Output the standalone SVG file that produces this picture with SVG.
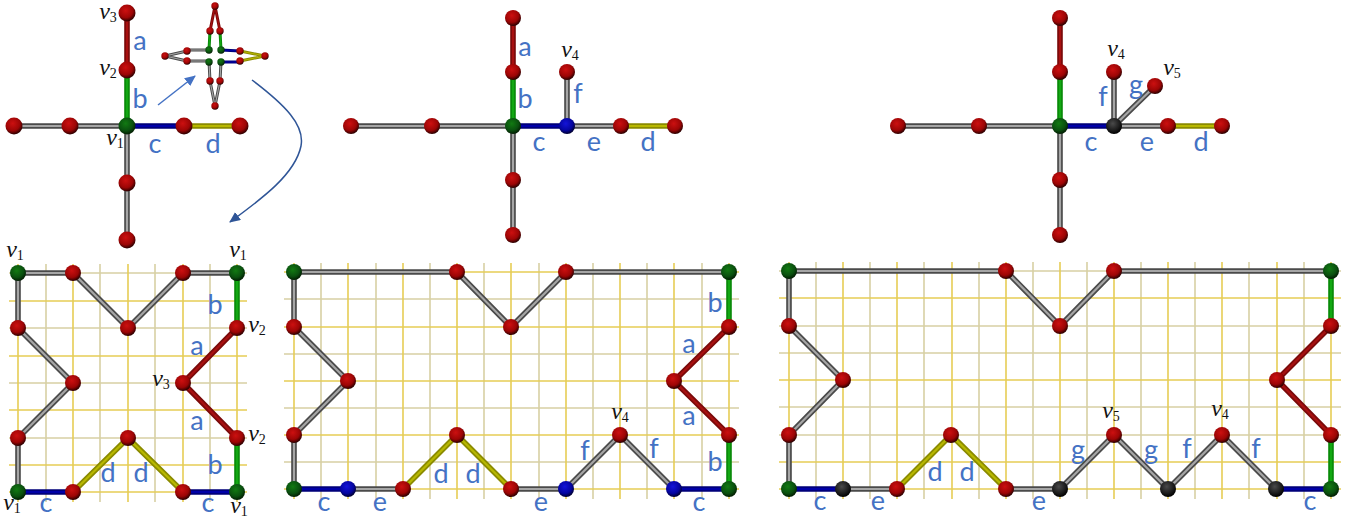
<svg xmlns="http://www.w3.org/2000/svg" width="1358" height="521" viewBox="0 0 1358 521">
<style>
.gy{fill:none;stroke:#e6cd55;stroke-width:1.6}
.gg{fill:none;stroke:#d8d0a4;stroke-width:1.6}
.o{fill:none;stroke-linecap:round;stroke-linejoin:round;stroke-width:5.6}
.i{fill:none;stroke-linecap:round;stroke-linejoin:round;stroke-width:2.2}
.n-o{stroke:#4a4a4a}.n-i{stroke:#a6a6a6}
.r-o{stroke:#7a0a0a}.r-i{stroke:#a81010}
.e-o{stroke:#0a8a0a}.e-i{stroke:#12a812}
.b-o{stroke:#00007a}.b-i{stroke:#0000a8}
.y-o{stroke:#8a8a00}.y-i{stroke:#b8b800}
.s .o{stroke-width:3}.s .i{stroke-width:1.1}
.R{fill:url(#gr)}.G{fill:url(#gg)}.B{fill:url(#gb)}.K{fill:url(#gk)}
.l{font-family:Lato,"Open Sans",sans-serif;font-size:27px;fill:#4472c4;text-anchor:middle}
.m{font-family:"Liberation Serif",serif;font-style:italic;font-size:24px;fill:#111;text-anchor:middle}
.m tspan{font-size:14px;font-style:normal}
.ar{fill:none;stroke:#4472c4;stroke-width:1.5}
.ar2{fill:none;stroke:#2f5597;stroke-width:1.5}
</style>
<defs>
<radialGradient id="gr" cx=".42" cy=".35" r=".65"><stop offset="0" stop-color="#cc1010"/><stop offset=".65" stop-color="#9c0505"/><stop offset="1" stop-color="#2a0000"/></radialGradient>
<radialGradient id="gg" cx=".42" cy=".35" r=".65"><stop offset="0" stop-color="#127a12"/><stop offset=".65" stop-color="#0a500f"/><stop offset="1" stop-color="#021d02"/></radialGradient>
<radialGradient id="gb" cx=".42" cy=".35" r=".65"><stop offset="0" stop-color="#1414d8"/><stop offset=".65" stop-color="#0505a0"/><stop offset="1" stop-color="#000030"/></radialGradient>
<radialGradient id="gk" cx=".42" cy=".35" r=".65"><stop offset="0" stop-color="#4a4a4a"/><stop offset=".65" stop-color="#1c1c1c"/><stop offset="1" stop-color="#000"/></radialGradient>
<marker id="a1" markerUnits="userSpaceOnUse" markerWidth="12" markerHeight="12" refX="10" refY="5" orient="auto"><path d="M0 0L11 5L0 10z" fill="#4472c4"/></marker>
<marker id="a2" markerUnits="userSpaceOnUse" markerWidth="12" markerHeight="12" refX="10" refY="5" orient="auto"><path d="M0 0L11 5L0 10z" fill="#2f5597"/></marker>
</defs>
<g id="grid">
<path class="gg" d="M46 264V502M100 264V502M155 264V502M210 264V502M9 328H247M9 383H247M9 438H247M9 273H247"/>
<path class="gy" d="M18 264V502M73 264V502M128 264V502M183 264V502M237 264V502M9 301H247M9 356H247M9 410H247M9 465H247M9 492H247"/>
<path class="gg" d="M321 263V499M376 263V499M430 263V499M484 263V499M539 263V499M593 263V499M647 263V499M702 263V499M284 299H739M284 354H739M284 408H739M284 462H739"/>
<path class="gy" d="M294 263V499M348 263V499M403 263V499M457 263V499M511 263V499M566 263V499M620 263V499M674 263V499M729 263V499M284 272H739M284 327H739M284 381H739M284 435H739M284 489H739"/>
<path class="gg" d="M816 262V499M870 262V499M924 262V499M979 262V499M1033 262V499M1087 262V499M1141 262V499M1195 262V499M1249 262V499M1304 262V499M779 326H1341M779 407H1341M779 271H1341M779 435H1341M779 353H1341"/>
<path class="gy" d="M789 262V499M843 262V499M897 262V499M952 262V499M1006 262V499M1060 262V499M1114 262V499M1168 262V499M1222 262V499M1277 262V499M1331 262V499M779 298H1341M779 380H1341M779 462H1341M779 489H1341"/>
</g>
<g id="connectors">
<path class="o n-o" d="M14 126H127V240"/><path class="i n-i" d="M14 126H127V240"/>
<path class="o r-o" d="M127 13V70"/><path class="i r-i" d="M127 13V70"/>
<path class="o e-o" d="M127 70V126"/><path class="i e-i" d="M127 70V126"/>
<path class="o b-o" d="M127 126H184"/><path class="i b-i" d="M127 126H184"/>
<path class="o y-o" d="M184 126H240"/><path class="i y-i" d="M184 126H240"/>
<g class="s">
<path class="o n-o" d="M187 51L165 56L187 61H209L210 81L215 106L220 81L221 62M209 50H187"/><path class="i n-i" d="M187 51L165 56L187 61H209L210 81L215 106L220 81L221 62M209 50H187"/>
<path class="o r-o" d="M210 31L215 6L220 31"/><path class="i r-i" d="M210 31L215 6L220 31"/>
<path class="o e-o" d="M210 31L209 50M220 31L221 50"/><path class="i e-i" d="M210 31L209 50M220 31L221 50"/>
<path class="o b-o" d="M221 50L240 51M221 62H240"/><path class="i b-i" d="M221 50L240 51M221 62H240"/>
<path class="o y-o" d="M240 51L265 56L240 61"/><path class="i y-i" d="M240 51L265 56L240 61"/>
</g>
<path class="o n-o" d="M351 126H513V235M567 126H621M567 126V72"/><path class="i n-i" d="M351 126H513V235M567 126H621M567 126V72"/>
<path class="o r-o" d="M513 18V72"/><path class="i r-i" d="M513 18V72"/>
<path class="o e-o" d="M513 72V126"/><path class="i e-i" d="M513 72V126"/>
<path class="o b-o" d="M513 126H567"/><path class="i b-i" d="M513 126H567"/>
<path class="o y-o" d="M621 126H675"/><path class="i y-i" d="M621 126H675"/>
<path class="o n-o" d="M898 126H1060V235M1114 126H1168M1114 126V72M1114 126L1155 86"/><path class="i n-i" d="M898 126H1060V235M1114 126H1168M1114 126V72M1114 126L1155 86"/>
<path class="o r-o" d="M1060 18V72"/><path class="i r-i" d="M1060 18V72"/>
<path class="o e-o" d="M1060 72V126"/><path class="i e-i" d="M1060 72V126"/>
<path class="o b-o" d="M1060 126H1114"/><path class="i b-i" d="M1060 126H1114"/>
<path class="o y-o" d="M1168 126H1222"/><path class="i y-i" d="M1168 126H1222"/>
<path class="o n-o" d="M18 492V438L73 383L18 328V273H73L128 328L183 273H237"/><path class="i n-i" d="M18 492V438L73 383L18 328V273H73L128 328L183 273H237"/>
<path class="o r-o" d="M237 328L183 383L237 438"/><path class="i r-i" d="M237 328L183 383L237 438"/>
<path class="o e-o" d="M237 273V328M237 438V492"/><path class="i e-i" d="M237 273V328M237 438V492"/>
<path class="o b-o" d="M18 492H73M183 492H237"/><path class="i b-i" d="M18 492H73M183 492H237"/>
<path class="o y-o" d="M73 492L128 438L183 492"/><path class="i y-i" d="M73 492L128 438L183 492"/>
<path class="o n-o" d="M294 489V435L348 381L294 327V272H457L511 327L566 272H729M348 489H403M511 489H566L620 435L674 489"/><path class="i n-i" d="M294 489V435L348 381L294 327V272H457L511 327L566 272H729M348 489H403M511 489H566L620 435L674 489"/>
<path class="o r-o" d="M729 327L674 381L729 435"/><path class="i r-i" d="M729 327L674 381L729 435"/>
<path class="o e-o" d="M729 272V327M729 435V489"/><path class="i e-i" d="M729 272V327M729 435V489"/>
<path class="o b-o" d="M294 489H348M674 489H729"/><path class="i b-i" d="M294 489H348M674 489H729"/>
<path class="o y-o" d="M403 489L457 435L511 489"/><path class="i y-i" d="M403 489L457 435L511 489"/>
<path class="o n-o" d="M789 489V435L843 380L789 326V271H1006L1060 326L1114 271H1331M843 489H897M1006 489H1060L1114 435L1168 489L1222 435L1276 489"/><path class="i n-i" d="M789 489V435L843 380L789 326V271H1006L1060 326L1114 271H1331M843 489H897M1006 489H1060L1114 435L1168 489L1222 435L1276 489"/>
<path class="o r-o" d="M1331 326L1277 380L1331 435"/><path class="i r-i" d="M1331 326L1277 380L1331 435"/>
<path class="o e-o" d="M1331 271V326M1331 435V489"/><path class="i e-i" d="M1331 271V326M1331 435V489"/>
<path class="o b-o" d="M789 489H843M1276 489H1331"/><path class="i b-i" d="M789 489H843M1276 489H1331"/>
<path class="o y-o" d="M897 489L951 435L1006 489"/><path class="i y-i" d="M897 489L951 435L1006 489"/>
<path class="ar" d="M158 105L195 76" marker-end="url(#a1)"/>
<path class="ar2" d="M252 80C285 105 305 125 301 146C295 175 260 200 230 222" marker-end="url(#a2)"/>
</g>
<g id="nodes-top-1">
<circle class="R" cx="127" cy="13" r="8.5"/><circle class="R" cx="127" cy="70" r="8.5"/><circle class="R" cx="14" cy="126" r="8.5"/><circle class="R" cx="70" cy="126" r="8.5"/><circle class="G" cx="127" cy="126" r="8.5"/><circle class="R" cx="184" cy="126" r="8.5"/><circle class="R" cx="240" cy="126" r="8.5"/><circle class="R" cx="127" cy="183" r="8.5"/><circle class="R" cx="127" cy="240" r="8.5"/>
</g>
<g id="nodes-inset">
<circle class="R" cx="215" cy="6" r="3.7"/><circle class="R" cx="210" cy="31" r="3.7"/><circle class="R" cx="220" cy="31" r="3.7"/><circle class="R" cx="165" cy="56" r="3.7"/><circle class="R" cx="187" cy="51" r="3.7"/><circle class="R" cx="187" cy="61" r="3.7"/><circle class="G" cx="209" cy="50" r="3.7"/><circle class="G" cx="221" cy="50" r="3.7"/><circle class="G" cx="209" cy="62" r="3.7"/><circle class="G" cx="221" cy="62" r="3.7"/><circle class="R" cx="240" cy="51" r="3.7"/><circle class="R" cx="240" cy="61" r="3.7"/><circle class="R" cx="265" cy="56" r="3.7"/><circle class="R" cx="210" cy="81" r="3.7"/><circle class="R" cx="220" cy="81" r="3.7"/><circle class="R" cx="215" cy="106" r="3.7"/>
</g>
<g id="nodes-top-2">
<circle class="R" cx="513" cy="18" r="8"/><circle class="R" cx="513" cy="72" r="8"/><circle class="R" cx="351" cy="126" r="8"/><circle class="R" cx="432" cy="126" r="8"/><circle class="G" cx="513" cy="126" r="8"/><circle class="B" cx="567" cy="126" r="8"/><circle class="R" cx="621" cy="126" r="8"/><circle class="R" cx="675" cy="126" r="8"/><circle class="R" cx="513" cy="180" r="8"/><circle class="R" cx="513" cy="235" r="8"/><circle class="R" cx="567" cy="72" r="8"/>
</g>
<g id="nodes-top-3">
<circle class="R" cx="1060" cy="18" r="8"/><circle class="R" cx="1060" cy="72" r="8"/><circle class="R" cx="898" cy="126" r="8"/><circle class="R" cx="979" cy="126" r="8"/><circle class="G" cx="1060" cy="126" r="8"/><circle class="K" cx="1114" cy="126" r="8"/><circle class="R" cx="1168" cy="126" r="8"/><circle class="R" cx="1222" cy="126" r="8"/><circle class="R" cx="1060" cy="180" r="8"/><circle class="R" cx="1060" cy="235" r="8"/><circle class="R" cx="1114" cy="72" r="8"/><circle class="R" cx="1155" cy="86" r="8"/>
</g>
<g id="nodes-bottom-1">
<circle class="G" cx="18" cy="273" r="8"/><circle class="R" cx="73" cy="273" r="8"/><circle class="R" cx="183" cy="273" r="8"/><circle class="G" cx="237" cy="273" r="8"/><circle class="R" cx="18" cy="328" r="8"/><circle class="R" cx="128" cy="328" r="8"/><circle class="R" cx="237" cy="328" r="8"/><circle class="R" cx="73" cy="383" r="8"/><circle class="R" cx="183" cy="383" r="8"/><circle class="R" cx="18" cy="438" r="8"/><circle class="R" cx="128" cy="438" r="8"/><circle class="R" cx="237" cy="438" r="8"/><circle class="G" cx="18" cy="492" r="8"/><circle class="R" cx="73" cy="492" r="8"/><circle class="R" cx="183" cy="492" r="8"/><circle class="G" cx="237" cy="492" r="8"/>
</g>
<g id="nodes-bottom-2">
<circle class="G" cx="294" cy="272" r="8"/><circle class="R" cx="457" cy="272" r="8"/><circle class="R" cx="566" cy="272" r="8"/><circle class="G" cx="729" cy="272" r="8"/><circle class="R" cx="294" cy="327" r="8"/><circle class="R" cx="511" cy="327" r="8"/><circle class="R" cx="729" cy="327" r="8"/><circle class="R" cx="348" cy="381" r="8"/><circle class="R" cx="674" cy="381" r="8"/><circle class="R" cx="294" cy="435" r="8"/><circle class="R" cx="457" cy="435" r="8"/><circle class="R" cx="620" cy="435" r="8"/><circle class="R" cx="729" cy="435" r="8"/><circle class="G" cx="294" cy="489" r="8"/><circle class="B" cx="348" cy="489" r="8"/><circle class="R" cx="403" cy="489" r="8"/><circle class="R" cx="511" cy="489" r="8"/><circle class="B" cx="566" cy="489" r="8"/><circle class="B" cx="674" cy="489" r="8"/><circle class="G" cx="729" cy="489" r="8"/>
</g>
<g id="nodes-bottom-3">
<circle class="G" cx="789" cy="271" r="8"/><circle class="R" cx="1006" cy="271" r="8"/><circle class="R" cx="1114" cy="271" r="8"/><circle class="G" cx="1331" cy="271" r="8"/><circle class="R" cx="789" cy="326" r="8"/><circle class="R" cx="1060" cy="326" r="8"/><circle class="R" cx="1331" cy="326" r="8"/><circle class="R" cx="843" cy="380" r="8"/><circle class="R" cx="1277" cy="380" r="8"/><circle class="R" cx="789" cy="435" r="8"/><circle class="R" cx="951" cy="435" r="8"/><circle class="R" cx="1114" cy="435" r="8"/><circle class="R" cx="1222" cy="435" r="8"/><circle class="R" cx="1331" cy="435" r="8"/><circle class="G" cx="789" cy="489" r="8"/><circle class="K" cx="843" cy="489" r="8"/><circle class="R" cx="897" cy="489" r="8"/><circle class="R" cx="1006" cy="489" r="8"/><circle class="K" cx="1060" cy="489" r="8"/><circle class="K" cx="1168" cy="489" r="8"/><circle class="K" cx="1276" cy="489" r="8"/><circle class="G" cx="1331" cy="489" r="8"/>
</g>
<g id="labels">
<text class="l" x="140" y="50">a</text><text class="l" x="140" y="108">b</text><text class="l" x="155" y="153">c</text><text class="l" x="213" y="153">d</text>
<text class="l" x="525" y="56">a</text><text class="l" x="525" y="108">b</text><text class="l" x="539" y="151">c</text><text class="l" x="594" y="151">e</text><text class="l" x="648" y="151">d</text><text class="l" x="578" y="103">f</text>
<text class="l" x="1103" y="106">f</text><text class="l" x="1136" y="94">g</text><text class="l" x="1091" y="151">c</text><text class="l" x="1147" y="151">e</text><text class="l" x="1201" y="151">d</text>
<text class="l" x="215" y="314">b</text><text class="l" x="197" y="355">a</text><text class="l" x="197" y="430">a</text><text class="l" x="215" y="474">b</text><text class="l" x="46" y="512">c</text><text class="l" x="108" y="482">d</text><text class="l" x="141" y="482">d</text><text class="l" x="208" y="512">c</text>
<text class="l" x="715" y="312">b</text><text class="l" x="689" y="353">a</text><text class="l" x="689" y="425">a</text><text class="l" x="715" y="471">b</text><text class="l" x="324" y="511">c</text><text class="l" x="380" y="511">e</text><text class="l" x="441" y="483">d</text><text class="l" x="473" y="483">d</text><text class="l" x="541" y="511">e</text><text class="l" x="585" y="460">f</text><text class="l" x="654" y="458">f</text><text class="l" x="699" y="511">c</text>
<text class="l" x="820" y="510">c</text><text class="l" x="878" y="510">e</text><text class="l" x="935" y="481">d</text><text class="l" x="967" y="481">d</text><text class="l" x="1039" y="510">e</text><text class="l" x="1078" y="459">g</text><text class="l" x="1151" y="459">g</text><text class="l" x="1187" y="458">f</text><text class="l" x="1256" y="458">f</text><text class="l" x="1310" y="510">c</text>
<text class="m" x="108" y="19">v<tspan dy="3">3</tspan></text><text class="m" x="108" y="75">v<tspan dy="3">2</tspan></text><text class="m" x="115" y="145">v<tspan dy="3">1</tspan></text>
<text class="m" x="570" y="57">v<tspan dy="3">4</tspan></text><text class="m" x="1116" y="56">v<tspan dy="3">4</tspan></text><text class="m" x="1172" y="75">v<tspan dy="3">5</tspan></text>
<text class="m" x="15" y="257">v<tspan dy="3">1</tspan></text><text class="m" x="238" y="257">v<tspan dy="3">1</tspan></text><text class="m" x="257" y="332">v<tspan dy="3">2</tspan></text><text class="m" x="161" y="386">v<tspan dy="3">3</tspan></text><text class="m" x="257" y="441">v<tspan dy="3">2</tspan></text><text class="m" x="12" y="510">v<tspan dy="3">1</tspan></text><text class="m" x="239" y="513">v<tspan dy="3">1</tspan></text>
<text class="m" x="620" y="419">v<tspan dy="3">4</tspan></text><text class="m" x="1111" y="418">v<tspan dy="3">5</tspan></text><text class="m" x="1220" y="416">v<tspan dy="3">4</tspan></text>
</g>
</svg>
